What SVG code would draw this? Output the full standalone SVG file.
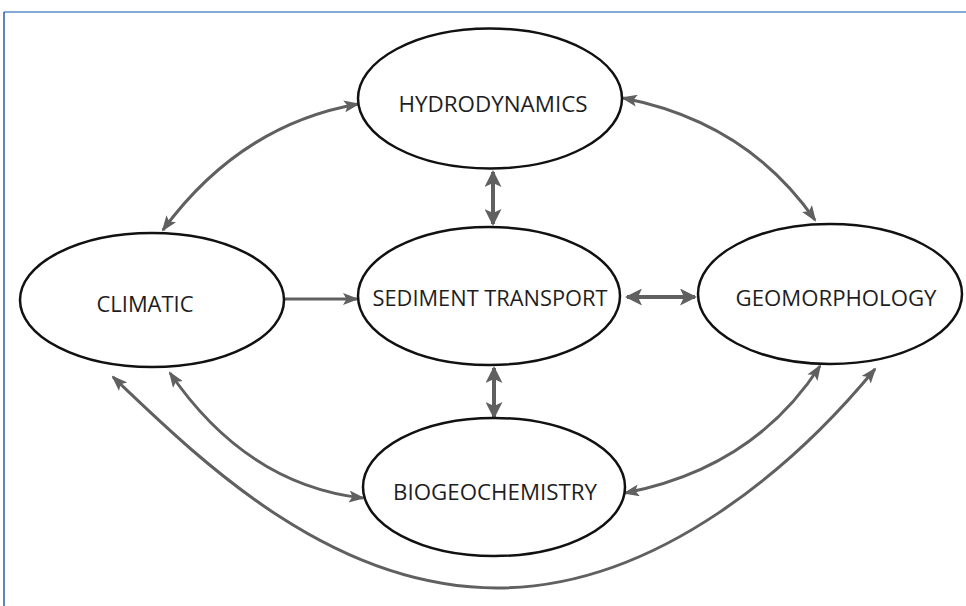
<svg xmlns="http://www.w3.org/2000/svg" width="966" height="606" viewBox="0 0 966 606">
  <style>
    .node ellipse { fill: #ffffff; stroke: #111111; stroke-width: 2.5; }
    .node text { font-family: "Open Sans", "Liberation Sans", sans-serif; font-size: 22px; fill: #1e1e1e; text-anchor: middle; }
    .conn { fill: none; stroke: #606060; stroke-width: 3; }
    .thin { marker-start: url(#ah); marker-end: url(#ah); }
    .one { marker-end: url(#ah); }
    .thick { stroke-width: 4; marker-start: url(#ahb); marker-end: url(#ahb); }
  </style>
  <defs>
    <marker id="ah" markerUnits="userSpaceOnUse" markerWidth="16" markerHeight="12" viewBox="0 0 16 12" refX="14" refY="6" orient="auto-start-reverse">
      <path d="M0,0 L16,6 L0,12 L3.5,6 Z" fill="#606060"/>
    </marker>
    <marker id="ahb" markerUnits="userSpaceOnUse" markerWidth="17" markerHeight="17" viewBox="0 0 17 17" refX="15" refY="8.5" orient="auto-start-reverse">
      <path d="M0,0 L17,8.5 L0,17 L4,8.5 Z" fill="#606060"/>
    </marker>
  </defs>
  <rect width="966" height="606" fill="#ffffff"/>
  <g id="frame">
    <line x1="4" y1="12" x2="966" y2="12" stroke="#5b8fc9" stroke-width="1.5"/>
    <line x1="4" y1="12" x2="4" y2="606" stroke="#2a5ca8" stroke-width="1.5"/>
  </g>
  <g id="connectors">
    <path class="conn thin" d="M358,104 Q240,125 163,230"/>
    <path class="conn thin" d="M623,98 Q747,122 815,220"/>
    <path class="conn thick" d="M493,172 L493,224"/>
    <path class="conn one" d="M285,299 L357,299"/>
    <path class="conn thick" d="M627,297 L695,297"/>
    <path class="conn thick" d="M494,368 L494,417"/>
    <path class="conn thin" d="M170,373 Q247,485 363,498"/>
    <path class="conn thin" d="M625,493 Q754,468 820,366"/>
    <path class="conn thin" d="M113,377 C200,460 330,588 497,588 C660,588 800,460 875,369"/>
  </g>
  <g id="hydrodynamics" class="node">
    <ellipse cx="490" cy="98.5" rx="132" ry="70"/>
    <text x="493" y="112" textLength="189" lengthAdjust="spacingAndGlyphs">HYDRODYNAMICS</text>
  </g>
  <g id="climatic" class="node">
    <ellipse cx="152" cy="300" rx="132" ry="67"/>
    <text x="145" y="312" textLength="97" lengthAdjust="spacingAndGlyphs">CLIMATIC</text>
  </g>
  <g id="sediment-transport" class="node">
    <ellipse cx="489" cy="296" rx="131" ry="69"/>
    <text x="490" y="306" textLength="235" lengthAdjust="spacingAndGlyphs">SEDIMENT TRANSPORT</text>
  </g>
  <g id="geomorphology" class="node">
    <ellipse cx="830" cy="294" rx="132" ry="70"/>
    <text x="836" y="306" textLength="201" lengthAdjust="spacingAndGlyphs">GEOMORPHOLOGY</text>
  </g>
  <g id="biogeochemistry" class="node">
    <ellipse cx="494" cy="487" rx="131" ry="69"/>
    <text x="495" y="500" textLength="204" lengthAdjust="spacingAndGlyphs">BIOGEOCHEMISTRY</text>
  </g>
</svg>
